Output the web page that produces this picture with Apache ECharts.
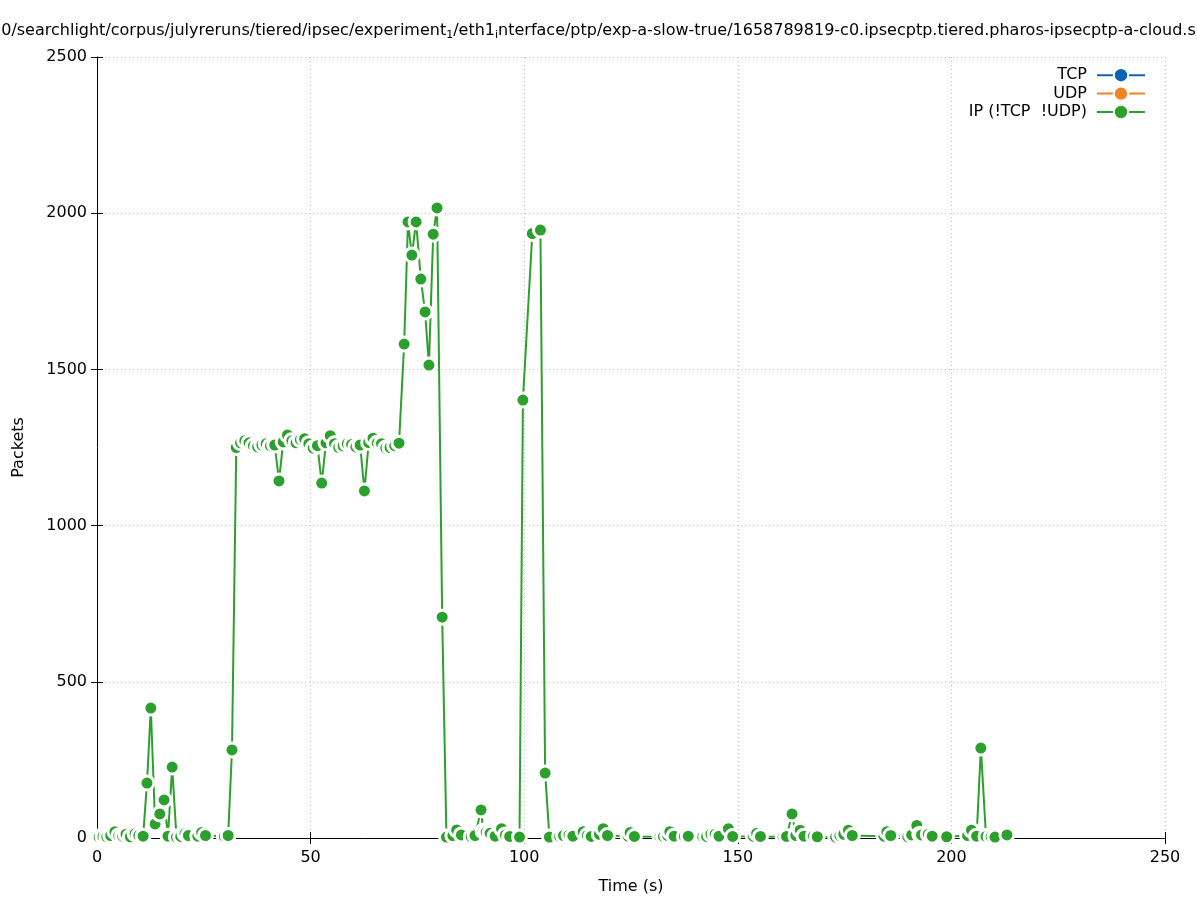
<!DOCTYPE html>
<html>
<head>
<meta charset="utf-8">
<script src="https://cdn.jsdelivr.net/npm/echarts@6/dist/echarts.min.js"></script>
<style>
html,body{margin:0;padding:0;background:#fff;}
#chart{width:1197px;height:900px;}
</style>
</head>
<body>
<div id="chart"></div>
<script>
// ---- data ----
const seriesNames = ['TCP', 'UDP', 'IP (!TCP  !UDP)'];
const tcpTimes = [];
const tcpValues = [];
const udpTimes = [];
const udpValues = [];
const ipTimes = [
  0.5, 1.4, 2.3, 3.2, 4.2, 5.1, 6.0, 6.8, 7.8, 8.9, 9.8, 10.8, 11.7, 12.6, 13.6, 14.7, 15.7, 16.6, 17.6, 18.6, 19.6, 20.6, 21.4,
  23.6, 24.5, 25.4, 29.8, 30.7, 31.6,
  32.6, 33.6, 34.6, 35.6, 36.6, 37.6, 38.6, 39.6, 40.6, 41.6, 42.6, 43.6, 44.6, 45.6, 46.6, 47.6, 48.6, 49.6, 50.6, 51.6,
  52.6, 53.6, 54.6, 55.6, 56.6, 57.6, 58.6, 59.6, 60.6, 61.6, 62.6, 63.6, 64.6, 65.6, 66.6, 67.6, 68.6, 69.7, 70.7,
  71.9, 72.8, 73.7, 74.7, 75.8, 76.8, 77.7, 78.7, 79.6, 80.8, 81.8, 83.3, 84.2, 85.3, 87.6, 88.5, 89.9, 90.4, 91.1, 92.0, 93.2,
  94.7, 95.6, 96.6, 98.9,
  99.7, 101.9, 103.8, 104.9, 105.9, 108.3, 109.2, 110.5, 111.4, 113.8, 114.8, 115.7, 117.6, 118.5, 119.5, 124.3, 124.8, 125.8,
  131.8, 132.6, 133.6, 134.1, 135.1, 137.5, 138.4, 141.8, 142.7, 143.7, 144.7, 145.6, 147.8, 148.8, 153.6, 154.4, 155.3,
  160.6, 161.4, 162.7, 163.6, 164.6, 165.5, 167.7, 168.6, 172.9, 173.9, 174.8, 175.9, 176.8, 184.2, 184.9, 185.8,
  189.8, 190.7, 191.9, 192.6, 193.0, 194.6, 195.5, 198.9, 203.8, 204.7, 205.9, 206.9, 208.1, 209.3, 210.2, 213.0
];
const ipValues = [
  3, 5, 4, 8, 20, 7, 6, 12, 4, 14, 8, 6, 176, 416, 45, 77, 122, 6, 227, 3, 5, 14, 8,
  6, 18, 8, 5, 8, 282,
  1250, 1265, 1272, 1265, 1255, 1252, 1258, 1262, 1255, 1258, 1143, 1268, 1290, 1272, 1265, 1275, 1278, 1262, 1248, 1256,
  1136, 1265, 1288, 1262, 1250, 1255, 1262, 1260, 1252, 1258, 1111, 1266, 1280, 1264, 1262, 1248, 1250, 1256, 1264,
  1581, 1972, 1866, 1972, 1789, 1684, 1514, 1933, 2017, 707, 3, 8, 26, 10, 4, 8, 90, 22, 18, 15, 6,
  30, 10, 5, 3,
  1402, 1935, 1946, 208, 3, 5, 8, 10, 6, 20, 8, 5, 12, 30, 8, 6, 18, 5,
  4, 5, 8, 20, 6, 5, 6, 4, 5, 12, 12, 6, 30, 5, 6, 15, 5,
  4, 5, 77, 8, 25, 6, 6, 4, 3, 8, 12, 25, 8, 6, 20, 8,
  4, 10, 40, 12, 10, 12, 6, 4, 8, 25, 6, 288, 5, 4, 3, 10
];
const xTicks = {min: 0, max: 250, step: 50};
const yTicks = {min: 0, max: 2500, step: 500};
const titleText = '0/searchlight/corpus/julyreruns/tiered/ipsec/experiment{sub|1}/eth1{sub|i}nterface/ptp/exp-a-slow-true/1658789819-c0.ipsecptp.tiered.pharos-ipsecptp-a-cloud.s';

const colors = ['#0a64b4', '#f58220', '#2ca02c'];
const FONT = 'DejaVu Sans';

function pairs(t, v) { return t.map((x, i) => [x, v[i]]); }

const chart = echarts.init(document.getElementById('chart'), null, {renderer: 'canvas'});

function mkSeries(name, data, color) {
  return {
    name: name,
    type: 'line',
    xAxisIndex: 0,
    yAxisIndex: 0,
    data: data,
    symbol: 'circle',
    symbolSize: 14,
    showAllSymbol: true,
    animation: false,
    lineStyle: {color: color, width: 2},
    itemStyle: {color: color, borderColor: '#fff', borderWidth: 3},
    emphasis: {disabled: true}
  };
}

const gridLine = {show: true, lineStyle: {color: '#bdbdbd', width: 1, type: [1, 3]}};

const option = {
  backgroundColor: '#fff',
  animation: false,
  color: colors,
  title: {
    text: titleText,
    left: 'center',
    top: 16,
    textStyle: {
      fontFamily: FONT, fontSize: 16, fontWeight: 'normal', color: '#000',
      rich: {sub: {fontFamily: FONT, fontSize: 11, padding: [9, 0, 0, 0]}}
    }
  },
  legend: {
    data: seriesNames,
    orient: 'vertical',
    right: 46,
    top: 62,
    align: 'right',
    itemWidth: 48,
    itemHeight: 18,
    itemGap: 2,
    itemStyle: {borderColor: '#fff', borderWidth: 2},
    textStyle: {fontFamily: FONT, fontSize: 16, color: '#000', padding: [0, 5, 0, 0]}
  },
  grid: {left: 97, right: 32, top: 57, bottom: 62, containLabel: false},
  xAxis: [{
    type: 'value', min: xTicks.min, max: xTicks.max, interval: xTicks.step,
    name: 'Time (s)', nameLocation: 'middle', nameGap: 41,
    nameTextStyle: {fontFamily: FONT, fontSize: 16, color: '#000'},
    axisLine: {show: true, onZero: false, lineStyle: {color: '#000', width: 1}},
    axisTick: {show: true, inside: true, length: 6, lineStyle: {color: '#000'}},
    axisLabel: {fontFamily: FONT, fontSize: 16, color: '#000', margin: 12, formatter: v => String(v)},
    splitLine: gridLine
  }, {
    type: 'value', min: xTicks.min, max: xTicks.max, interval: xTicks.step, position: 'top',
    axisLine: {show: false},
    axisTick: {show: true, inside: true, length: 6, lineStyle: {color: '#000'}},
    axisLabel: {show: false},
    splitLine: {show: false}
  }],
  yAxis: [{
    type: 'value', min: yTicks.min, max: yTicks.max, interval: yTicks.step,
    name: 'Packets', nameLocation: 'middle', nameGap: 70,
    nameTextStyle: {fontFamily: FONT, fontSize: 16, color: '#000'},
    axisLine: {show: true, onZero: false, lineStyle: {color: '#000', width: 1}},
    axisTick: {show: true, inside: true, length: 6, lineStyle: {color: '#000'}},
    axisLabel: {fontFamily: FONT, fontSize: 16, color: '#000', margin: 10, formatter: v => String(v)},
    splitLine: gridLine
  }, {
    type: 'value', min: yTicks.min, max: yTicks.max, interval: yTicks.step, position: 'right',
    axisLine: {show: false},
    axisTick: {show: true, inside: true, length: 6, lineStyle: {color: '#000'}},
    axisLabel: {show: false},
    splitLine: {show: false}
  }],
  series: [
    mkSeries(seriesNames[0], pairs(tcpTimes, tcpValues), colors[0]),
    mkSeries(seriesNames[1], pairs(udpTimes, udpValues), colors[1]),
    mkSeries(seriesNames[2], pairs(ipTimes, ipValues), colors[2])
  ]
};
chart.setOption(option);
</script>
</body>
</html>
